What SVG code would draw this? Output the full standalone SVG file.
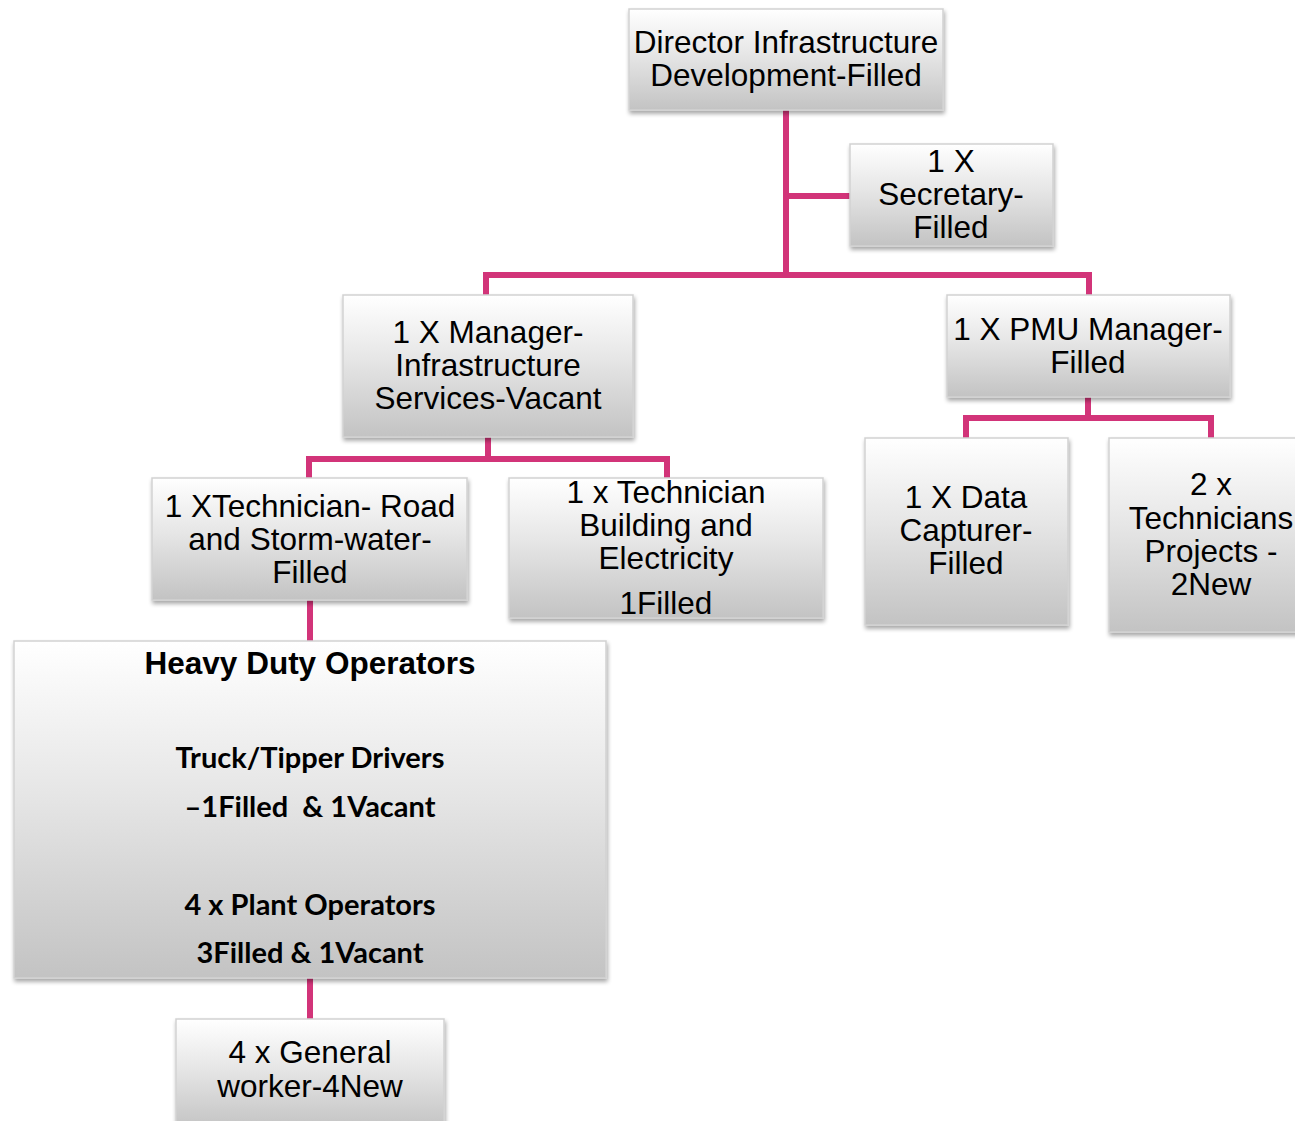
<svg xmlns="http://www.w3.org/2000/svg" width="1295" height="1121" viewBox="0 0 1295 1121">
<defs>
<linearGradient id="g" x1="0" y1="0" x2="0" y2="1">
<stop offset="0" stop-color="#ffffff"/>
<stop offset="0.45" stop-color="#e6e6e6"/>
<stop offset="1" stop-color="#c3c3c3"/>
</linearGradient>
<filter id="sh" x="-10%" y="-10%" width="125%" height="130%">
<feGaussianBlur in="SourceAlpha" stdDeviation="2"/>
<feOffset dx="1" dy="3" result="o"/>
<feComponentTransfer><feFuncA type="linear" slope="0.35"/></feComponentTransfer>
<feMerge><feMergeNode/><feMergeNode in="SourceGraphic"/></feMerge>
</filter>
</defs>
<style>
.box{fill:url(#g);stroke:#d2d2d2;stroke-width:1.5;filter:url(#sh)}
.t{font-family:"Liberation Sans",Arial,sans-serif;font-size:31.5px;fill:#000;text-anchor:middle}
.b{font-family:"Liberation Sans",Arial,sans-serif;font-size:31.5px;font-weight:bold;fill:#000;text-anchor:middle}
.c{font-family:Lato,"Open Sans",sans-serif;font-size:29px;font-weight:bold;fill:#000;text-anchor:middle}
.con{fill:none;stroke:#d23479;stroke-width:6}
</style>
<g id="connectors">
<path class="con" d="M786 110 V275"/>
<path class="con" d="M786 196 H850"/>
<path class="con" d="M486 295 V275 H1089 V295"/>
<path class="con" d="M488 437 V459"/>
<path class="con" d="M309 478 V459 H667 V478"/>
<path class="con" d="M1088 397 V418"/>
<path class="con" d="M966 438 V418 H1211 V438"/>
<path class="con" d="M310 600 V641"/>
<path class="con" d="M310 978 V1019"/>
</g>
<g id="director">
<rect class="box" x="629" y="9" width="314" height="101"/>
<text class="t" x="786" y="53">Director Infrastructure</text>
<text class="t" x="786" y="86">Development-Filled</text>
</g>
<g id="secretary">
<rect class="box" x="850" y="144" width="203" height="102"/>
<text class="t" x="951" y="172">1 X</text>
<text class="t" x="951" y="205">Secretary-</text>
<text class="t" x="951" y="238">Filled</text>
</g>
<g id="manager">
<rect class="box" x="343" y="295" width="290" height="142"/>
<text class="t" x="488" y="343">1 X Manager-</text>
<text class="t" x="488" y="376">Infrastructure</text>
<text class="t" x="488" y="409">Services-Vacant</text>
</g>
<g id="pmu">
<rect class="box" x="947" y="295" width="283" height="102"/>
<text class="t" x="1088" y="340">1 X PMU Manager-</text>
<text class="t" x="1088" y="373">Filled</text>
</g>
<g id="tech-road">
<rect class="box" x="152" y="478" width="315" height="122"/>
<text class="t" x="310" y="517">1 XTechnician- Road</text>
<text class="t" x="310" y="550">and Storm-water-</text>
<text class="t" x="310" y="583">Filled</text>
</g>
<g id="tech-building">
<rect class="box" x="509" y="478" width="314" height="140"/>
<text class="t" x="666" y="503">1 x Technician</text>
<text class="t" x="666" y="536">Building and</text>
<text class="t" x="666" y="569">Electricity</text>
<text class="t" x="666" y="614">1Filled</text>
</g>
<g id="data-capturer">
<rect class="box" x="865" y="438" width="203" height="187"/>
<text class="t" x="966" y="508">1 X Data</text>
<text class="t" x="966" y="541">Capturer-</text>
<text class="t" x="966" y="574">Filled</text>
</g>
<g id="technicians-projects">
<rect class="box" x="1109" y="438" width="200" height="194"/>
<text class="t" x="1211" y="495">2 x</text>
<text class="t" x="1211" y="529">Technicians</text>
<text class="t" x="1211" y="562">Projects -</text>
<text class="t" x="1211" y="595">2New</text>
</g>
<g id="heavy-duty">
<rect class="box" x="14" y="641" width="592" height="337"/>
<text class="b" x="310" y="674">Heavy Duty Operators</text>
<text class="c" x="310" y="768">Truck/Tipper Drivers</text>
<text class="c" x="310" y="817" xml:space="preserve">–1Filled  &amp; 1Vacant</text>
<text class="c" x="310" y="915">4 x Plant Operators</text>
<text class="c" x="310" y="963">3Filled &amp; 1Vacant</text>
</g>
<g id="general-worker">
<rect class="box" x="176" y="1019" width="268" height="110"/>
<text class="t" x="310" y="1063">4 x General</text>
<text class="t" x="310" y="1097">worker-4New</text>
</g>
</svg>
